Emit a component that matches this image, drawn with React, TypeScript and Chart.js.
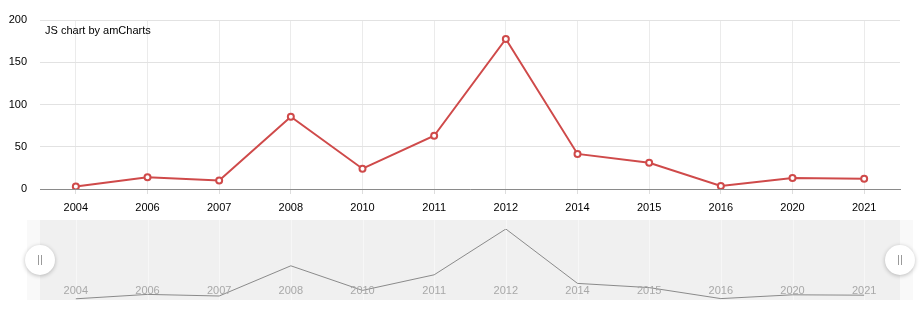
import React, { useEffect, useRef } from "react";
import { Chart, registerables } from "chart.js";

Chart.register(...registerables);

const categories = ["2004", "2006", "2007", "2008", "2010", "2011", "2012", "2014", "2015", "2016", "2020", "2021"];
const values = [3, 14, 10, 85.5, 24, 63, 177.5, 41.5, 31, 3.5, 13, 12];
const yTicks = [0, 50, 100, 150, 200];
const creditText = "JS chart by amCharts";

const FONT = "'Liberation Sans', Arial, sans-serif";
const LINE_RED = "#cf4a4a";

export default function App() {
  const mainRef = useRef<HTMLCanvasElement | null>(null);
  const navRef = useRef<HTMLCanvasElement | null>(null);

  useEffect(() => {
    const main = new Chart(mainRef.current as HTMLCanvasElement, {
      type: "line",
      data: {
        labels: categories,
        datasets: [
          {
            data: values,
            borderColor: LINE_RED,
            borderWidth: 2,
            backgroundColor: "#ffffff",
            pointBackgroundColor: "#ffffff",
            pointBorderColor: LINE_RED,
            pointBorderWidth: 2,
            pointRadius: 3,
            tension: 0,
          },
        ],
      },
      options: {
        responsive: false,
        animation: false,
        layout: { padding: { top: 20, right: 20, left: 0, bottom: 0 } },
        plugins: { legend: { display: false }, tooltip: { enabled: false } },
        scales: {
          x: {
            offset: true,
            grid: { offset: false, color: "#ebebeb", drawTicks: true, tickLength: 5, tickColor: "#dddddd" },
            border: { color: "#8a8a8a", width: 1 },
            ticks: { color: "#000", font: { family: FONT, size: 11 }, padding: 7, maxRotation: 0, autoSkip: false },
            afterFit: (s: any) => { s.height = 36; },
          },
          y: {
            min: 0,
            max: 200,
            afterBuildTicks: (s: any) => { s.ticks = yTicks.map((v) => ({ value: v })); },
            grid: { color: "#e2e2e2", drawTicks: false },
            border: { display: false },
            ticks: { color: "#000", font: { family: FONT, size: 11 }, padding: 13 },
            afterFit: (s: any) => { s.width = 40; },
          },
        },
      },
    });

    const navPlugin = {
      id: "navDeco",
      beforeDatasetsDraw(chart: any) {
        const { ctx, chartArea } = chart;
        const xs = chart.scales.x;
        ctx.save();
        ctx.fillStyle = "#f9f9f9";
        ctx.fillRect(chartArea.left - 13, 0, chartArea.right - chartArea.left + 26, 80);
        ctx.fillStyle = "#f0f0f0";
        ctx.fillRect(chartArea.left, 0, chartArea.right - chartArea.left, 80);
        ctx.strokeStyle = "#f7f7f7";
        ctx.lineWidth = 1;
        categories.forEach((_c, i) => {
          const px = Math.round(xs.getPixelForTick(i)) + 0.5;
          ctx.beginPath();
          ctx.moveTo(px, 0);
          ctx.lineTo(px, 80);
          ctx.stroke();
        });
        ctx.restore();
      },
      afterDatasetsDraw(chart: any) {
        const { ctx, chartArea } = chart;
        const xs = chart.scales.x;
        ctx.save();
        ctx.fillStyle = "#a8a8a8";
        ctx.font = `11px ${FONT}`;
        ctx.textAlign = "center";
        ctx.textBaseline = "middle";
        categories.forEach((c, i) => {
          ctx.fillText(c, xs.getPixelForTick(i), 71);
        });
        const cy = 40;
        [chartArea.left, chartArea.right].forEach((hx: number) => {
          ctx.save();
          ctx.shadowColor = "rgba(0,0,0,0.25)";
          ctx.shadowBlur = 4;
          ctx.shadowOffsetY = 1;
          ctx.beginPath();
          ctx.arc(hx, cy, 15, 0, Math.PI * 2);
          ctx.fillStyle = "#ffffff";
          ctx.fill();
          ctx.restore();
          ctx.strokeStyle = "#9a9a9a";
          ctx.lineWidth = 1;
          ctx.beginPath();
          ctx.moveTo(hx - 1.5, cy - 5);
          ctx.lineTo(hx - 1.5, cy + 5);
          ctx.moveTo(hx + 1.5, cy - 5);
          ctx.lineTo(hx + 1.5, cy + 5);
          ctx.stroke();
        });
        ctx.restore();
      },
    };

    const nav = new Chart(navRef.current as HTMLCanvasElement, {
      type: "line",
      data: {
        labels: categories,
        datasets: [
          {
            data: values,
            borderColor: "#8a8a8a",
            borderWidth: 1,
            pointRadius: 0,
            tension: 0,
          },
        ],
      },
      options: {
        responsive: false,
        animation: false,
        layout: { padding: { top: 9, right: 20, left: 40, bottom: 0 } },
        plugins: { legend: { display: false }, tooltip: { enabled: false } },
        scales: {
          x: {
            display: true,
            offset: true,
            grid: { display: false },
            border: { display: false },
            ticks: { display: false },
            afterFit: (s: any) => { s.height = 0; },
          },
          y: {
            display: false,
            min: 0,
            max: Math.max(...values),
          },
        },
      },
      plugins: [navPlugin],
    });

    return () => {
      main.destroy();
      nav.destroy();
    };
  }, []);

  return (
    <div style={{ position: "absolute", left: 0, top: 0, width: 920, height: 320, background: "#fff" }}>
      <canvas ref={mainRef} width={920} height={225} style={{ position: "absolute", left: 0, top: 0, width: 920, height: 225 }} />
      <canvas ref={navRef} width={920} height={80} style={{ position: "absolute", left: 0, top: 220, width: 920, height: 80 }} />
      <div
        style={{
          position: "absolute",
          left: 45,
          top: 24,
          fontFamily: FONT,
          fontSize: 11,
          color: "#000",
          lineHeight: "13px",
        }}
      >
        {creditText}
      </div>
    </div>
  );
}
